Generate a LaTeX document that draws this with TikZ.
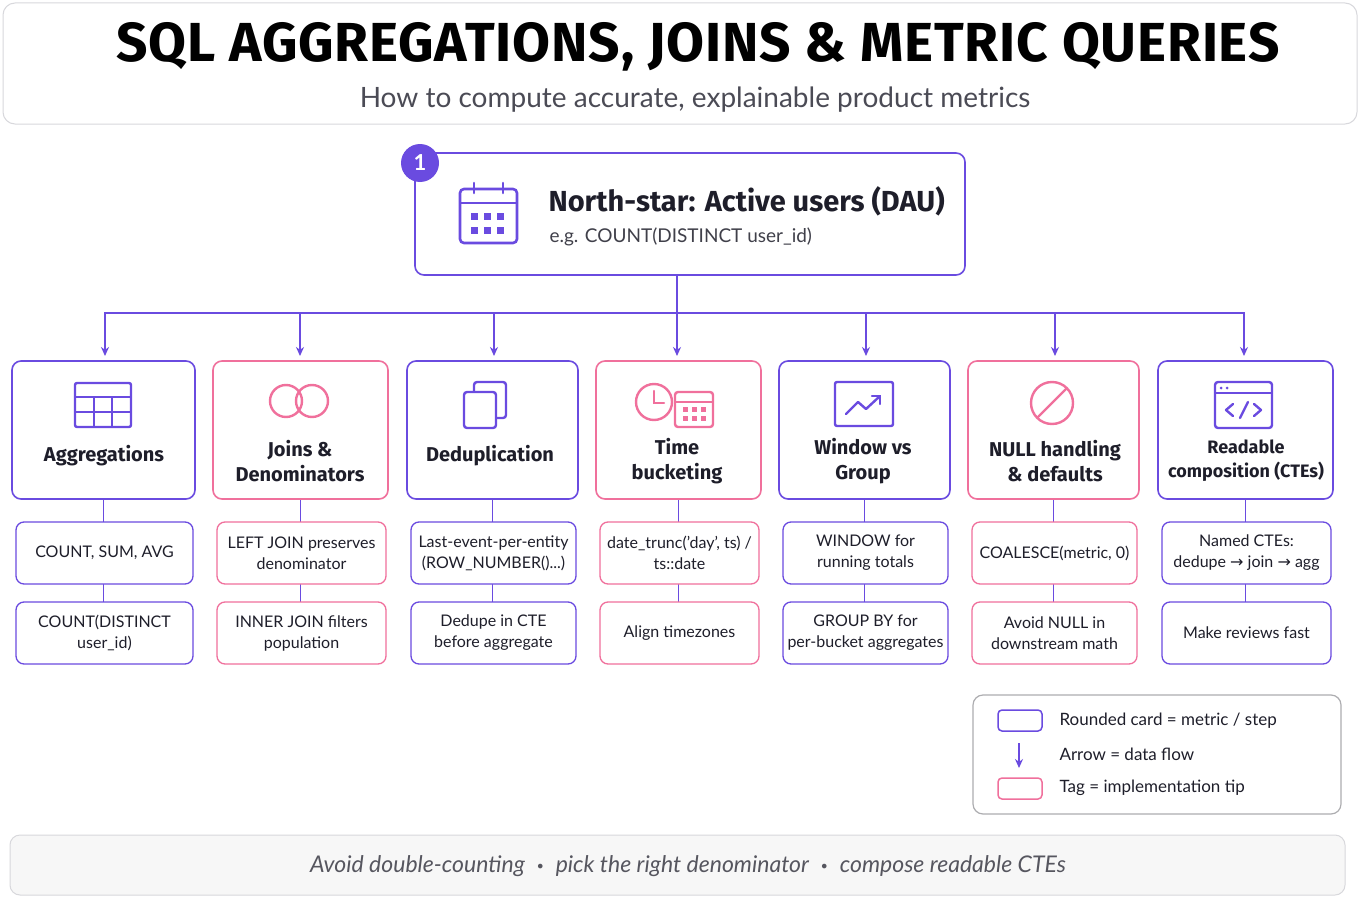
\documentclass[tikz,border=0pt]{standalone}
\usetikzlibrary{arrows.meta}
\usepackage{fontspec}
\setmainfont{Lato}
\newfontfamily\titlefont{Fira Sans}
\newfontfamily\cardfont{Fira Sans}
\newfontfamily\symfont{DejaVu Sans}
\definecolor{pur}{HTML}{6A4BE0}
\definecolor{pnk}{HTML}{F0709C}
\definecolor{ink}{HTML}{1E1E2A}
\definecolor{gry}{HTML}{D8D8DC}
\begin{document}
\begin{tikzpicture}[x=1pt,y=-1pt,
 card/.style={draw=#1,line width=1.6pt,rounded corners=9pt,fill=white},
 tag/.style={draw=#1,line width=1.3pt,rounded corners=8pt,fill=white},
 ctitle/.style={font=\cardfont\bfseries\fontsize{20}{25}\selectfont,text=ink,align=center},
 ttext/.style={font=\fontsize{16}{21}\selectfont,text=ink,align=center},
 link/.style={pur,line width=1.6pt},
 arr/.style={pur,line width=1.6pt,-{Stealth[length=9pt,width=8pt]}}]
\useasboundingbox (0,0) rectangle (1360,907);
\fill[white] (0,0) rectangle (1360,907);
% header
\draw[gry,line width=1pt,rounded corners=12pt] (3,3) rectangle (1357,124);
\node[font=\titlefont\bfseries\fontsize{55}{60}\selectfont,text=black] (title) at (698,47) {\addfontfeature{LetterSpace=1.5}SQL AGGREGATIONS, JOINS \& METRIC QUERIES};
\node[font=\fontsize{28}{32}\selectfont,text=ink!80] (sub) at (695,100) {How to compute accurate, explainable product metrics};
% top card
\draw[card=pur] (415,153) rectangle (965,275);
\coordinate (topb) at (677,275);
\fill[pur] (420,163) circle (19);
\node[text=white,font=\bfseries\fontsize{22}{24}\selectfont] (badge) at (420,163) {1};
% calendar icon
\draw[pur,line width=2.6pt,rounded corners=4pt] (460,189) rectangle (517,243);
\draw[pur,line width=2.6pt] (460,203) -- (517,203);
\draw[pur,line width=2.6pt,line cap=round] (474,183)--(474,193) (503,183)--(503,193);
\foreach \i in {0,1,2}{\foreach \j in {0,1}{\fill[pur] (471+\i*13,213+\j*14) rectangle ++(7,7);}}
\node[anchor=west,font=\cardfont\bfseries\fontsize{29}{32}\selectfont,text=ink] (toptitle) at (545,201) {North-star: Active users (DAU)};
\node[anchor=west,font=\fontsize{19}{22}\selectfont,text=ink!85] (topsub) at (546,237) {e.g. COUNT(DISTINCT user\_id)};
% distribution
\coordinate (hub) at (677,313);
\draw[link] (topb) -- (hub);
\draw[link] (105,313) -- (1244,313);
\foreach \x in {105,300,494,677,866,1055,1244}{\draw[arr] (\x,312) -- (\x,356);}
% cards
\foreach \a/\b/\c/\u/\v [count=\n] in {
 12/195/pur/{COUNT, SUM, AVG}/{COUNT(DISTINCT\\user\_id)},
 213/388/pnk/{LEFT JOIN preserves\\denominator}/{INNER JOIN filters\\population},
 407/578/pur/{Last-event-per-entity\\(ROW\_NUMBER()...)}/{Dedupe in CTE\\before aggregate},
 596/761/pnk/{date\_trunc('day', ts) /\\ts::date}/{Align timezones},
 779/950/pur/{WINDOW for\\running totals}/{GROUP BY for\\per-bucket aggregates},
 968/1139/pnk/{COALESCE(metric, 0)}/{Avoid NULL in\\downstream math},
 1158/1333/pur/{Named CTEs:\\dedupe {\symfont→} join {\symfont→} agg}/{Make reviews fast}}{
 \pgfmathsetmacro\m{(\a+\b)/2}
 \draw[link,line width=1.3pt] (\m,499) -- (\m,602);
 \draw[card=\c] (\a,361) rectangle (\b,499);
 \draw[tag=\c] (\a+4,522) rectangle (\b-2,584);
 \draw[tag=\c] (\a+4,602) rectangle (\b-2,664);
 \node[ttext] (ta\n) at (\m+1,553) {\u};
 \node[ttext] (tb\n) at (\m+1,633) {\v};
}
\node[ctitle] (c1) at (104,456) {Aggregations};
\node[ctitle] (c2) at (300,461) {Joins \&\\Denominators};
\node[ctitle] (c3) at (490,456) {Deduplication};
\node[ctitle] (c4) at (677,461) {Time\\bucketing};
\node[ctitle] (c5) at (863,461) {Window vs\\Group};
\node[ctitle] (c6) at (1055,461) {NULL handling\\\& defaults};
\node[ctitle,font=\cardfont\bfseries\fontsize{18}{24}\selectfont] (c7) at (1246,461) {Readable\\composition (CTEs)};
% icons
\begin{scope}[pur,line width=2.4pt]
 \draw[rounded corners=2pt] (75,383) rectangle (131,427);
 \draw (75,397)--(131,397) (75,412)--(131,412) (94,397)--(94,427) (112,397)--(112,427);
\end{scope}
\begin{scope}[pnk,line width=2.4pt]
 \draw (286,401) circle (16); \draw (312,401) circle (16);
 \draw (654,402) circle (18); \draw[line cap=round] (654,391)--(654,403)--(664,403);
 \draw (1052,403) circle (21); \draw (1037,418)--(1067,388);
 \draw[rounded corners=3pt] (675,392) rectangle (713,427); \draw (675,402)--(713,402);
 \foreach \i in {0,1,2}{\foreach \j in {0,1}{\fill[pnk] (683+\i*9,407+\j*9) rectangle ++(5,5);}}
\end{scope}
\begin{scope}[pur,line width=2.4pt]
 \draw[rounded corners=3pt] (474,382) rectangle (506,418);
 \draw[fill=white,rounded corners=3pt] (464,392) rectangle (496,428);
 \draw[rounded corners=2pt] (835,382) rectangle (893,426);
 \draw[line cap=round,line join=round] (846,414)--(858,402)--(866,409)--(880,396);
 \draw[line cap=round,line join=round] (872,396)--(880,396)--(880,404);
 \draw[rounded corners=3pt] (1215,382) rectangle (1272,428);
 \draw (1215,393)--(1272,393);
 \fill (1221,388) circle (1.5) (1227,388) circle (1.5);
 \draw[line cap=round,line join=round] (1233,404)--(1226,410)--(1233,416) (1254,404)--(1261,410)--(1254,416) (1240,418)--(1248,402);
\end{scope}
% legend
\draw[gry!80!black,line width=1.2pt,rounded corners=10pt] (973,695) rectangle (1341,814);
\draw[pur,line width=1.5pt,rounded corners=4pt] (998,710) rectangle (1042,731);
\draw[arr,line width=1.5pt] (1019,743) -- (1019,768);
\draw[pnk,line width=1.5pt,rounded corners=4pt] (998,778) rectangle (1042,799);
\node[anchor=west,ttext,font=\fontsize{17}{20}\selectfont] (l1) at (1056,721) {Rounded card = metric / step};
\node[anchor=west,ttext,font=\fontsize{17}{20}\selectfont] (l2) at (1056,754) {Arrow = data flow};
\node[anchor=west,ttext,font=\fontsize{17}{20}\selectfont] (l3) at (1056,788) {Tag = implementation tip};
% footer
\draw[gry,fill=gray!6,line width=1pt,rounded corners=10pt] (10,835) rectangle (1345,895);
\node[font=\itshape\fontsize{23}{26}\selectfont,text=ink!75] (foot) at (688,866) {Avoid double-counting \ {\upshape\symfont\fontsize{16}{16}\selectfont •}\ \ pick the right denominator \ {\upshape\symfont\fontsize{16}{16}\selectfont •}\ \ compose readable CTEs};
\end{tikzpicture}
\end{document}
